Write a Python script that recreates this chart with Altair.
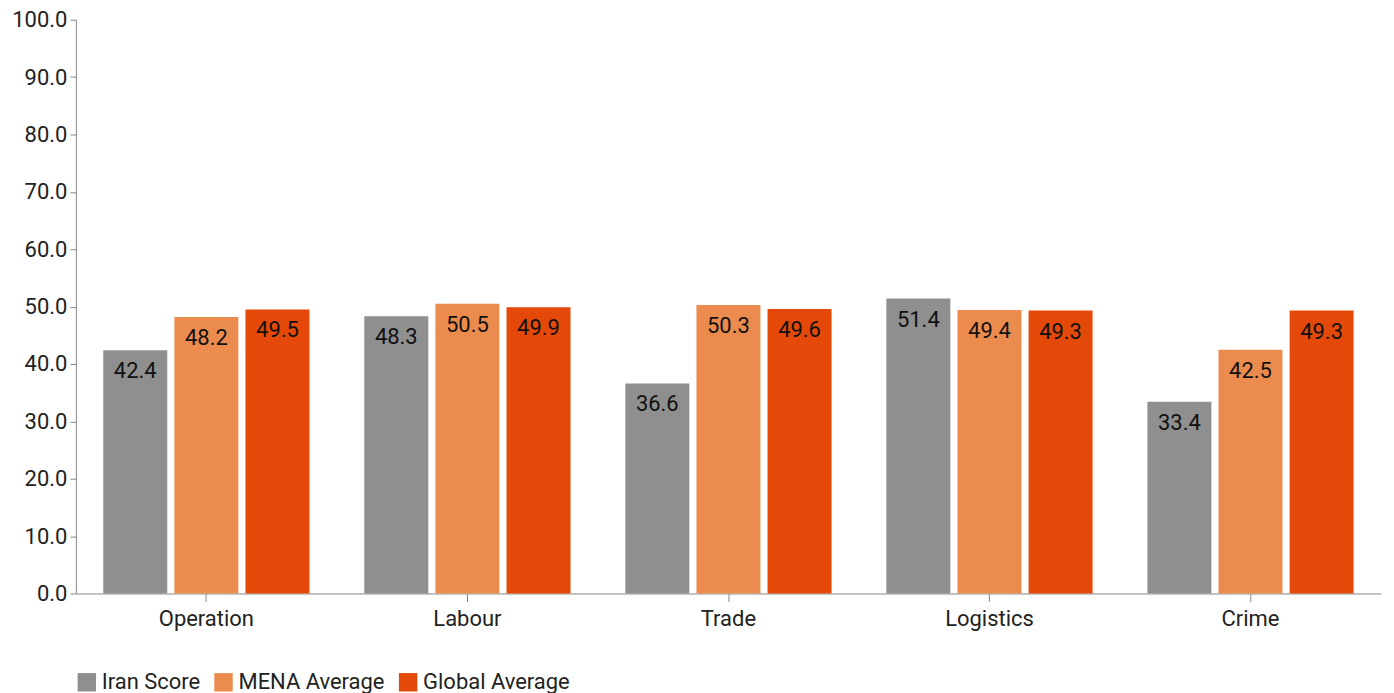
import altair as alt
import pandas as pd

categories = ["Operation", "Labour", "Trade", "Logistics", "Crime"]
series = ["Iran Score", "MENA Average", "Global Average"]
iran = [42.4, 48.3, 36.6, 51.4, 33.4]
mena = [48.2, 50.5, 50.3, 49.4, 42.5]
glob = [49.5, 49.9, 49.6, 49.3, 49.3]
colors = ["#8f8f8f", "#eb8c4e", "#e4490a"]

rows = []
for i, c in enumerate(categories):
    for s, vals in zip(series, [iran, mena, glob]):
        rows.append({"category": c, "series": s, "value": vals[i]})
df = pd.DataFrame(rows)

FONT = "Roboto"
FS = 22

base = alt.Chart(df).encode(
    x=alt.X("category:N", sort=categories, title=None,
            scale=alt.Scale(paddingInner=0.21, paddingOuter=0.105),
            axis=alt.Axis(labelAngle=0, labelFontSize=FS, labelFont=FONT,
                          labelColor="#222", domainColor="#888", tickColor="#888",
                          tickSize=8, labelPadding=7)),
    xOffset=alt.XOffset("series:N", sort=series,
                        scale=alt.Scale(paddingInner=0.1)),
    y=alt.Y("value:Q", title=None,
            scale=alt.Scale(domain=[0, 100]),
            axis=alt.Axis(format=".1f", values=list(range(0, 101, 10)),
                          labelOverlap=False, labelBound=False,
                          grid=False, labelFontSize=FS, labelFont=FONT,
                          labelColor="#222", domainColor="#888", tickColor="#888",
                          tickSize=6, labelPadding=3)),
)

bars = base.mark_bar().encode(
    color=alt.Color("series:N", sort=series,
                    scale=alt.Scale(domain=series, range=colors),
                    legend=alt.Legend(title=None, orient="bottom", direction="horizontal",
                                      symbolType="square", symbolSize=340,
                                      symbolStrokeWidth=0, symbolOpacity=1,
                                      labelFontSize=FS, labelFont=FONT, labelColor="#222",
                                      offset=42, columnPadding=12, labelOffset=4)),
)

text = base.mark_text(baseline="middle", dy=21, fontSize=FS, font=FONT, color="#111").encode(
    text=alt.Text("value:Q", format=".1f"),
)

chart = (bars + text).properties(
    width=1308, height=575,
    padding={"left": 3, "top": 0, "right": 5, "bottom": 0},
).configure_view(stroke=None)

chart.save("out.html", embed_options={"renderer": "svg", "actions": False})
